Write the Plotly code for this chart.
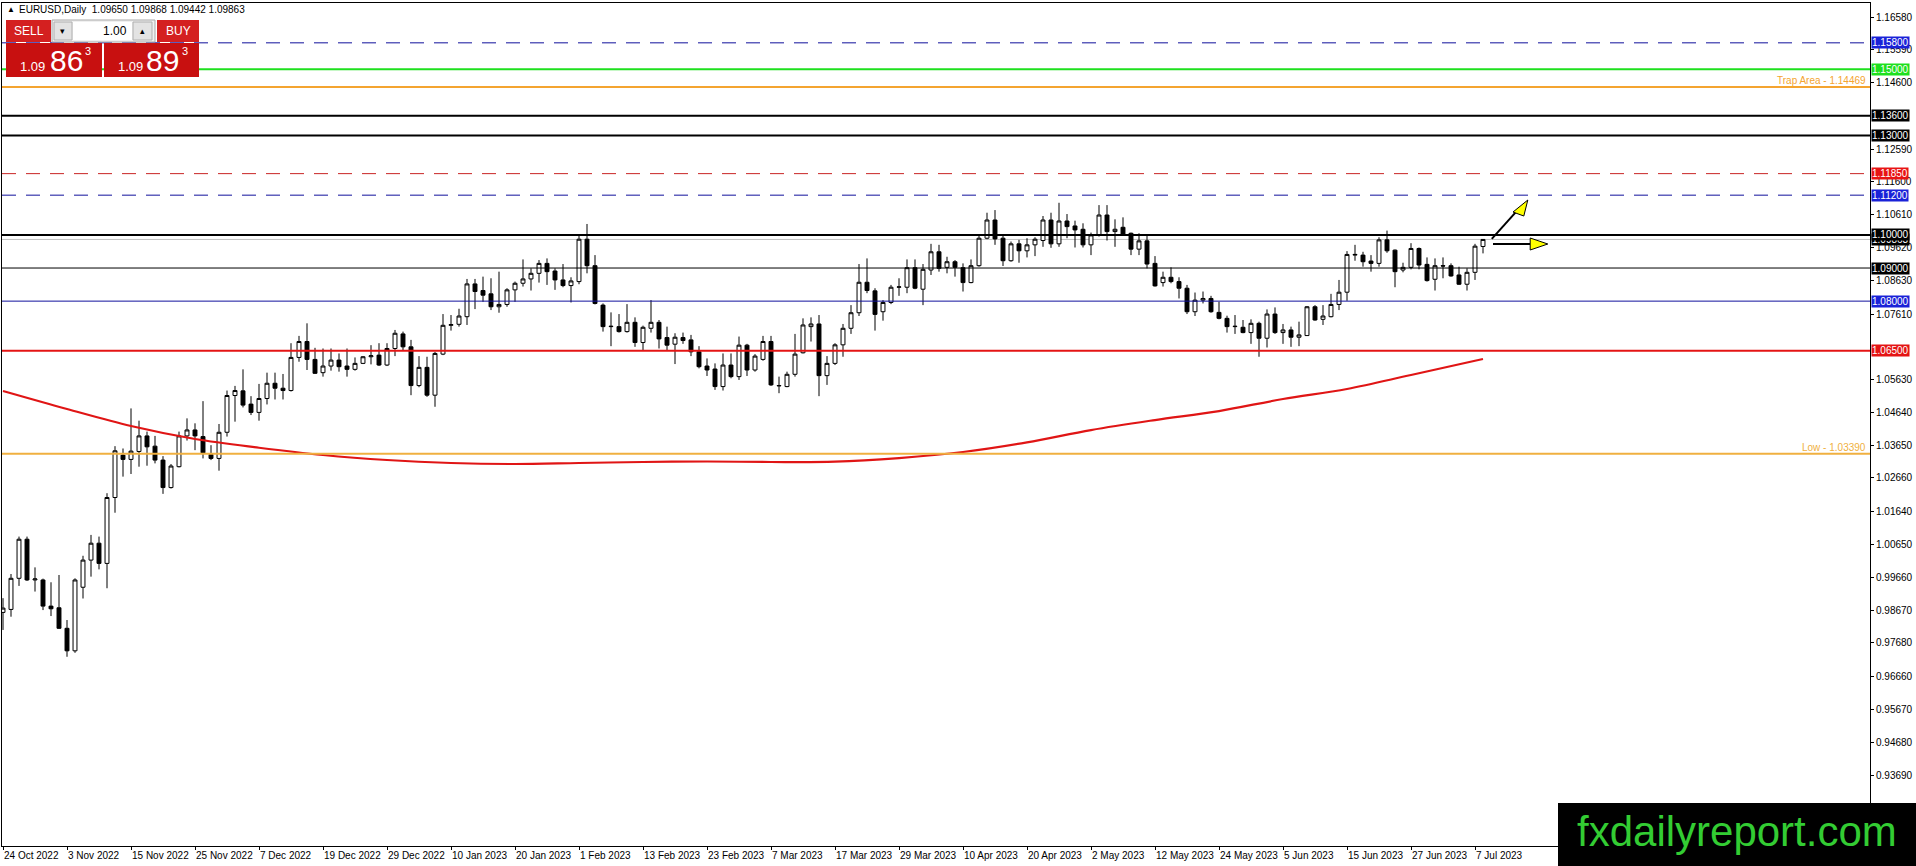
import plotly.graph_objects as go

# EURUSD daily bars, 24 Oct 2022 .. 10 Jul 2023
OPEN = [0.9860, 0.9869, 0.9963, 1.0081, 0.9958, 0.9958, 0.9879, 0.9874, 0.9812, 0.9744,
        0.9936, 1.0018, 1.0069, 1.0008, 1.0207, 1.0335, 1.0322, 1.0346, 1.0393, 1.0362,
        1.0320, 1.0237, 1.0300, 1.0393, 1.0411, 1.0391, 1.0337, 1.0325, 1.0404, 1.0515,
        1.0529, 1.0489, 1.0464, 1.0506, 1.0552, 1.0537, 1.0530, 1.0630, 1.0678, 1.0624,
        1.0584, 1.0604, 1.0622, 1.0604, 1.0594, 1.0612, 1.0632, 1.0637, 1.0607, 1.0657,
        1.0701, 1.0662, 1.0545, 1.0600, 1.0516, 1.0640, 1.0727, 1.0730, 1.0753, 1.0852,
        1.0832, 1.0822, 1.0783, 1.0790, 1.0834, 1.0854, 1.0867, 1.0884, 1.0914, 1.0891,
        1.0864, 1.0847, 1.0859, 1.0987, 1.0907, 1.0788, 1.0723, 1.0723, 1.0708, 1.0736,
        1.0675, 1.0718, 1.0736, 1.0690, 1.0670, 1.0690, 1.0683, 1.0647, 1.0604, 1.0595,
        1.0542, 1.0607, 1.0572, 1.0667, 1.0592, 1.0624, 1.0678, 1.0544, 1.0542, 1.0579,
        1.0644, 1.0723, 1.0731, 1.0575, 1.0612, 1.0668, 1.0718, 1.0765, 1.0857, 1.0831,
        1.0768, 1.0796, 1.0842, 1.0842, 1.0901, 1.0836, 1.0894, 1.0949, 1.0902, 1.0919,
        1.0901, 1.0856, 1.0907, 1.0990, 1.1045, 1.0990, 1.0922, 1.0973, 1.0952, 1.0970,
        1.0983, 1.1045, 1.0973, 1.1042, 1.1027, 1.1017, 1.0970, 1.1000, 1.1060, 1.1010,
        1.1023, 1.1005, 1.0957, 1.0982, 1.0914, 1.0856, 1.0872, 1.0859, 1.0839, 1.0768,
        1.0803, 1.0808, 1.0766, 1.0748, 1.0723, 1.0721, 1.0705, 1.0733, 1.0688, 1.0761,
        1.0705, 1.0713, 1.0691, 1.0696, 1.0783, 1.0745, 1.0753, 1.0790, 1.0827, 1.0939,
        1.0939, 1.0921, 1.0914, 1.0985, 1.0954, 1.0894, 1.0902, 1.0959, 1.0911, 1.0866,
        1.0907, 1.0907, 1.0879, 1.0851, 1.0887, 1.09650]
HIGH = [0.9903, 0.9976, 1.0089, 1.0089, 0.9996, 0.9962, 0.9951, 0.9973, 0.9837, 0.9963,
        1.0031, 1.0094, 1.0089, 1.0220, 1.0362, 1.0355, 1.0476, 1.0439, 1.0406, 1.0393,
        1.0332, 1.0308, 1.0406, 1.0446, 1.0431, 1.0498, 1.0365, 1.0429, 1.0530, 1.0544,
        1.0594, 1.0513, 1.0550, 1.0584, 1.0584, 1.0580, 1.0673, 1.0695, 1.0733, 1.0659,
        1.0657, 1.0657, 1.0642, 1.0657, 1.0630, 1.0634, 1.0667, 1.0673, 1.0673, 1.0713,
        1.0708, 1.0683, 1.0634, 1.0632, 1.0647, 1.0761, 1.0758, 1.0777, 1.0867, 1.0867,
        1.0874, 1.0869, 1.0889, 1.0839, 1.0859, 1.0926, 1.0899, 1.0924, 1.0929, 1.0899,
        1.0912, 1.0872, 1.0997, 1.1033, 1.0939, 1.0793, 1.0766, 1.0761, 1.0791, 1.0751,
        1.0726, 1.0803, 1.0743, 1.0723, 1.0703, 1.0705, 1.0698, 1.0664, 1.0627, 1.0612,
        1.0642, 1.0642, 1.0693, 1.0671, 1.0640, 1.0695, 1.0695, 1.0572, 1.0587, 1.0701,
        1.0748, 1.0751, 1.0758, 1.0634, 1.0673, 1.0731, 1.0788, 1.0912, 1.0929, 1.0839,
        1.0803, 1.0849, 1.0869, 1.0926, 1.0926, 1.0912, 1.0973, 1.0970, 1.0934, 1.0924,
        1.0914, 1.0926, 1.1000, 1.1067, 1.1075, 1.1000, 1.0980, 1.0985, 1.0990, 1.0993,
        1.1057, 1.1067, 1.1097, 1.1063, 1.1043, 1.1035, 1.1007, 1.1090, 1.1090, 1.1047,
        1.1053, 1.1007, 1.1005, 1.0997, 1.0936, 1.0889, 1.0902, 1.0872, 1.0849, 1.0826,
        1.0829, 1.0816, 1.0798, 1.0756, 1.0758, 1.0743, 1.0745, 1.0738, 1.0775, 1.0781,
        1.0731, 1.0723, 1.0738, 1.0785, 1.0788, 1.0788, 1.0822, 1.0864, 1.0951, 1.0970,
        1.0949, 1.0939, 1.0993, 1.1013, 1.0956, 1.0916, 1.0975, 1.0962, 1.0932, 1.0929,
        1.0932, 1.0914, 1.0904, 1.0899, 1.0973, 1.09868]
LOW = [0.9807, 0.9847, 0.9940, 0.9955, 0.9923, 0.9867, 0.9849, 0.9810, 0.9726, 0.9738,
       0.9902, 0.9968, 0.9990, 0.9933, 1.0161, 1.0270, 1.0278, 1.0300, 1.0303, 1.0310,
       1.0218, 1.0234, 1.0298, 1.0379, 1.0350, 1.0325, 1.0320, 1.0288, 1.0391, 1.0436,
       1.0479, 1.0456, 1.0439, 1.0488, 1.0503, 1.0503, 1.0527, 1.0617, 1.0592, 1.0580,
       1.0572, 1.0590, 1.0587, 1.0572, 1.0590, 1.0610, 1.0609, 1.0604, 1.0604, 1.0634,
       1.0650, 1.0516, 1.0540, 1.0511, 1.0481, 1.0637, 1.0711, 1.0723, 1.0728, 1.0776,
       1.0798, 1.0773, 1.0765, 1.0783, 1.0798, 1.0844, 1.0832, 1.0856, 1.0849, 1.0834,
       1.0842, 1.0796, 1.0851, 1.0884, 1.0790, 1.0708, 1.0664, 1.0705, 1.0705, 1.0662,
       1.0650, 1.0705, 1.0657, 1.0652, 1.0610, 1.0671, 1.0634, 1.0597, 1.0574, 1.0532,
       1.0530, 1.0567, 1.0562, 1.0574, 1.0587, 1.0620, 1.0544, 1.0522, 1.0540, 1.0572,
       1.0642, 1.0678, 1.0513, 1.0547, 1.0607, 1.0632, 1.0701, 1.0755, 1.0824, 1.0711,
       1.0741, 1.0791, 1.0816, 1.0824, 1.0836, 1.0788, 1.0879, 1.0889, 1.0884, 1.0874,
       1.0829, 1.0854, 1.0904, 1.0987, 1.0970, 1.0906, 1.0919, 1.0916, 1.0932, 1.0936,
       1.0964, 1.0961, 1.0964, 1.0990, 1.0962, 1.0962, 1.0939, 1.0995, 1.0983, 1.0964,
       1.0997, 1.0939, 1.0939, 1.0899, 1.0844, 1.0844, 1.0854, 1.0808, 1.0761, 1.0755,
       1.0793, 1.0765, 1.0745, 1.0705, 1.0701, 1.0703, 1.0671, 1.0632, 1.0660, 1.0701,
       1.0671, 1.0662, 1.0664, 1.0695, 1.0741, 1.0728, 1.0751, 1.0773, 1.0801, 1.0922,
       1.0904, 1.0889, 1.0904, 1.0946, 1.0842, 1.0887, 1.0896, 1.0896, 1.0859, 1.0832,
       1.0869, 1.0874, 1.0849, 1.0832, 1.0864, 1.09442]
CLOSE = [0.9873, 0.9963, 1.0081, 0.9958, 0.9961, 0.9879, 0.9871, 0.9812, 0.9744, 0.9958,
         1.0018, 1.0069, 1.0008, 1.0207, 1.0348, 1.0322, 1.0347, 1.0393, 1.0360, 1.0320,
         1.0237, 1.0302, 1.0393, 1.0411, 1.0393, 1.0342, 1.0325, 1.0404, 1.0515, 1.0530,
         1.0486, 1.0464, 1.0506, 1.0552, 1.0537, 1.0530, 1.0630, 1.0678, 1.0624, 1.0582,
         1.0604, 1.0622, 1.0602, 1.0594, 1.0612, 1.0632, 1.0635, 1.0607, 1.0657, 1.0703,
         1.0662, 1.0545, 1.0600, 1.0516, 1.0642, 1.0727, 1.0729, 1.0755, 1.0852, 1.0829,
         1.0818, 1.0783, 1.0790, 1.0834, 1.0854, 1.0867, 1.0884, 1.0914, 1.0889, 1.0864,
         1.0847, 1.0861, 1.0987, 1.0907, 1.0793, 1.0723, 1.0724, 1.0708, 1.0736, 1.0675,
         1.0721, 1.0736, 1.0686, 1.0667, 1.0691, 1.0681, 1.0647, 1.0602, 1.0592, 1.0542,
         1.0607, 1.0572, 1.0667, 1.0592, 1.0634, 1.0678, 1.0547, 1.0545, 1.0579, 1.0640,
         1.0728, 1.0731, 1.0575, 1.0612, 1.0668, 1.0718, 1.0765, 1.0857, 1.0832, 1.0760,
         1.0796, 1.0842, 1.0843, 1.0901, 1.0839, 1.0896, 1.0949, 1.0899, 1.0919, 1.0902,
         1.0856, 1.0907, 1.0990, 1.1045, 1.0988, 1.0922, 1.0973, 1.0952, 1.0970, 1.0987,
         1.1045, 1.0973, 1.1042, 1.1025, 1.1015, 1.0970, 1.1000, 1.1060, 1.1010, 1.1017,
         1.1000, 1.0957, 1.0982, 1.0912, 1.0846, 1.0872, 1.0859, 1.0839, 1.0768, 1.0803,
         1.0808, 1.0768, 1.0748, 1.0723, 1.0724, 1.0705, 1.0733, 1.0688, 1.0761, 1.0705,
         1.0713, 1.0691, 1.0698, 1.0783, 1.0743, 1.0755, 1.0790, 1.0827, 1.0941, 1.0941,
         1.0919, 1.0914, 1.0985, 1.0952, 1.0889, 1.0902, 1.0959, 1.0909, 1.0862, 1.0907,
         1.0906, 1.0876, 1.0851, 1.0887, 1.0966, 1.09863]

# one date label every 8 bars
TICK_LABELS = ["24 Oct 2022", "3 Nov 2022", "15 Nov 2022", "25 Nov 2022", "7 Dec 2022",
               "19 Dec 2022", "29 Dec 2022", "10 Jan 2023", "20 Jan 2023", "1 Feb 2023",
               "13 Feb 2023", "23 Feb 2023", "7 Mar 2023", "17 Mar 2023", "29 Mar 2023",
               "10 Apr 2023", "20 Apr 2023", "2 May 2023", "12 May 2023", "24 May 2023",
               "5 Jun 2023", "15 Jun 2023", "27 Jun 2023", "7 Jul 2023"]

# moving average, sampled on the labelled bars plus the last bar
MA_VALUES = [1.05285, 1.04742, 1.04228, 1.03836, 1.03573, 1.03353, 1.03202, 1.03112,
             1.03081, 1.03112, 1.03142, 1.03157, 1.03142, 1.03152, 1.03262, 1.03443,
             1.03735, 1.04107, 1.04409, 1.04681, 1.05044, 1.05346, 1.05769, 1.06200,
             1.06252]

Y_TICKS = [1.16580, 1.15590, 1.14600, 1.12590, 1.11600, 1.10610, 1.09620,
           1.08630, 1.07610, 1.05630, 1.04640, 1.03650, 1.02660, 1.01640,
           1.00650, 0.99660, 0.98670, 0.97680, 0.96660, 0.95670, 0.94680, 0.93690]

# horizontal levels drawn on the chart
LEVEL_PRICES = [1.15800, 1.15000, 1.13600, 1.13000, 1.11850, 1.11200, 1.10000, 1.09000, 1.08000, 1.06500]
TRAP_AREA = 1.14469
LOW_LEVEL = 1.03390

# level styles: colour, width, dash, label background
LEVEL_STYLE = {
    1.15800: ("#10109c", 1, "14px,10px", "#1a22d8"),
    1.15000: ("#1ee01e", 2, "solid", "#1ee01e"),
    1.13600: ("black", 2, "solid", "black"),
    1.13000: ("black", 2, "solid", "black"),
    1.11850: ("#c82424", 1, "14px,10px", "#e81414"),
    1.11200: ("#10109c", 1, "14px,10px", "#1a22d8"),
    1.10000: ("black", 2, "solid", "black"),
    1.09000: ("black", 1, "solid", "black"),
    1.08000: ("#10109c", 1, "solid", "#1a22d8"),
    1.06500: ("#e41414", 2, "solid", "#e41414"),
}

Y_TOP, Y_BOT = 1.17003, 0.91546
PLOT_L, PLOT_R, PLOT_T, PLOT_B = 2, 1870, 3, 846
W, H = 1916, 866


def px(x):
    return (x - PLOT_L) / (PLOT_R - PLOT_L)


def py(y):
    return (PLOT_B - y) / (PLOT_B - PLOT_T)


n = len(OPEN)
bars = list(range(n))
ma_bars = list(range(0, n, 8)) + [n - 1]

fig = go.Figure()
fig.add_trace(go.Candlestick(
    x=bars, open=OPEN, high=HIGH, low=LOW, close=CLOSE,
    increasing=dict(line=dict(color="black", width=1), fillcolor="white"),
    decreasing=dict(line=dict(color="black", width=1), fillcolor="black"),
    whiskerwidth=0, name="EURUSD"))
fig.add_trace(go.Scatter(x=ma_bars, y=MA_VALUES, mode="lines", line=dict(color="#e01515", width=2.2, shape="spline"),
                         name="MA", hoverinfo="skip"))

# level lines
for p in LEVEL_PRICES:
    col, lw, dash, _ = LEVEL_STYLE[p]
    fig.add_shape(type="line", xref="paper", x0=0, x1=1, yref="y", y0=p, y1=p,
                  line=dict(color=col, width=lw, dash=dash), layer="above")
fig.add_shape(type="line", xref="paper", x0=0, x1=1, yref="y", y0=TRAP_AREA, y1=TRAP_AREA,
              line=dict(color="#f4a430", width=2), layer="above")
fig.add_shape(type="line", xref="paper", x0=0, x1=1, yref="y", y0=LOW_LEVEL, y1=LOW_LEVEL,
              line=dict(color="#f0b040", width=2), layer="above")
fig.add_shape(type="line", xref="paper", x0=0, x1=1, yref="y", y0=CLOSE[-1], y1=CLOSE[-1],
              line=dict(color="#c0c0c0", width=1), layer="below")

fig.add_annotation(x=px(1868), y=TRAP_AREA, xref="paper", yref="y", xanchor="right", yanchor="bottom",
                   text="Trap Area - %.5f" % TRAP_AREA, showarrow=False, yshift=-1,
                   font=dict(color="#f4a430", size=10))
fig.add_annotation(x=px(1868), y=LOW_LEVEL, xref="paper", yref="y", xanchor="right", yanchor="bottom",
                   text="Low - %.5f" % LOW_LEVEL, showarrow=False, yshift=-1,
                   font=dict(color="#f0b040", size=10))

# price labels on the right axis
fig.add_annotation(x=px(1871), y=CLOSE[-1], xref="paper", yref="y", xanchor="left", yanchor="middle",
                   text="%.5f" % CLOSE[-1], showarrow=False, bgcolor="black", borderpad=0,
                   font=dict(color="white", size=10))
for p in LEVEL_PRICES:
    fig.add_annotation(x=px(1871), y=p, xref="paper", yref="y", xanchor="left", yanchor="middle",
                       text="%.5f" % p, showarrow=False, bgcolor=LEVEL_STYLE[p][3], borderpad=0,
                       font=dict(color="white", size=10))

# arrows next to the last bar (black shaft, yellow head)
last = n - 1
fig.add_shape(type="line", x0=last + 1.1, y0=1.0988, x1=last + 4.3, y1=1.1074,
              line=dict(color="black", width=2), layer="above")
fig.add_shape(type="path", path="M %f,%f L %f,%f L %f,%f Z" % (last + 5.6, 1.11054, last + 3.75, 1.10691, last + 5.1, 1.10570),
              fillcolor="#ffff00", line=dict(color="black", width=1), layer="above")
fig.add_shape(type="line", x0=last + 1.25, y0=1.09725, x1=last + 5.9, y1=1.09725,
              line=dict(color="black", width=2), layer="above")
fig.add_shape(type="path", path="M %f,%f L %f,%f L %f,%f Z" % (last + 8.1, 1.09725, last + 5.9, 1.09906, last + 5.9, 1.09544),
              fillcolor="#ffff00", line=dict(color="black", width=1), layer="above")

# header line
fig.add_annotation(x=px(5), y=py(10), xref="paper", yref="paper", xanchor="left", yanchor="middle",
                   text="\u25b2", showarrow=False, font=dict(size=8, color="black"))
fig.add_annotation(x=px(17), y=py(10), xref="paper", yref="paper", xanchor="left", yanchor="middle",
                   text="EURUSD,Daily  %.5f %.5f %.5f %.5f" % (OPEN[-1], HIGH[-1], LOW[-1], CLOSE[-1]),
                   showarrow=False, font=dict(size=10, color="black"))


def box(x0, y0, x1, y1, fill, line="rgba(0,0,0,0)"):
    fig.add_shape(type="rect", xref="paper", yref="paper", x0=px(x0), x1=px(x1), y0=py(y1), y1=py(y0),
                  fillcolor=fill, line=dict(color=line, width=1), layer="above")


def label(x, y, text, size, color="white", anchor="center"):
    fig.add_annotation(x=px(x), y=py(y), xref="paper", yref="paper", xanchor=anchor, yanchor="middle",
                       text=text, showarrow=False, font=dict(size=size, color=color))


# one-click trading panel
box(6, 20, 51, 42, "#d42020")
box(157, 20, 199, 42, "#d42020")
box(52, 20, 155, 42, "#f0f0f0", "#a8a8a8")
box(54, 22, 72, 40, "#e3e3e3", "#b0b0b0")
box(133, 22, 152, 40, "#e3e3e3", "#b0b0b0")
box(73, 22, 132, 40, "white")
box(6, 43, 102, 77, "#c81010")
box(104, 43, 199, 77, "#c81010")
label(28.5, 31, "SELL", 12)
label(178, 31, "BUY", 12)
label(63, 31, "\u25be", 9, "black")
label(142, 31, "\u25b4", 9, "black")
label(129, 31, "1.00", 12, "black", "right")
sell_px = "%.5f" % (CLOSE[-1])
buy_px = "%.5f" % (CLOSE[-1] + 0.0003)
label(32, 67, sell_px[:4], 13)
label(66, 60, sell_px[4:6], 30)
label(88, 51, sell_px[6], 11)
label(130, 67, buy_px[:4], 13)
label(162, 60, buy_px[4:6], 30)
label(185, 51, buy_px[6], 11)

# watermark
fig.add_shape(type="rect", xref="paper", yref="paper", x0=px(1558), x1=px(1920), y0=py(870), y1=py(803),
              fillcolor="black", line=dict(width=0), layer="above")
fig.add_annotation(x=px(1737), y=py(831), xref="paper", yref="paper", xanchor="center", yanchor="middle",
                   text="fxdailyreport.com", showarrow=False, font=dict(size=42, color="#33cc33"))

fig.update_layout(
    width=W, height=H,
    margin=dict(l=PLOT_L, r=W - PLOT_R, t=PLOT_T, b=H - PLOT_B, autoexpand=False),
    plot_bgcolor="white", paper_bgcolor="white", showlegend=False,
    font=dict(family="Liberation Sans, Arial, sans-serif", size=10, color="black"),
    xaxis=dict(range=[-0.125, 233.375], tickvals=list(range(0, n, 8)), ticktext=TICK_LABELS,
               ticks="outside", ticklen=3, tickcolor="black", ticklabelposition="outside right",
               tickangle=0, showgrid=False, zeroline=False, showline=True, linecolor="black", linewidth=1,
               mirror=True, rangeslider=dict(visible=False)),
    yaxis=dict(range=[Y_BOT, Y_TOP], side="right", tickvals=Y_TICKS, ticktext=["%.5f" % v for v in Y_TICKS],
               ticks="outside", ticklen=3, tickcolor="black", showgrid=False, zeroline=False,
               showline=True, linecolor="black", linewidth=1, mirror=True),
)

# the page body has a default 8px margin; drop it so the figure fills the window exactly
fig.write_html("out.html", config={"displayModeBar": False},
               post_script="document.body.style.margin='0';")
